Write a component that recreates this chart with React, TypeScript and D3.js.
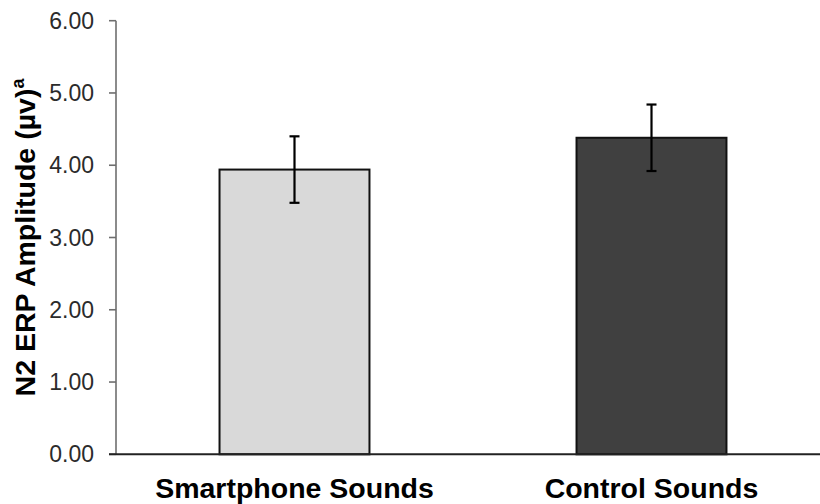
import React from "react";
import * as d3 from "d3";

const categories = ["Smartphone Sounds", "Control Sounds"];
const means = [3.94, 4.38];
const errors = [0.46, 0.46];
const fills = ["#d9d9d9", "#404040"];
const yTicks = [0, 1, 2, 3, 4, 5, 6];

const W = 820;
const H = 504;
const x0 = 116;
const x1 = 830;
const yTop = 20.7;
const yBottom = 454.3;

export default function App() {
  const x = d3
    .scaleBand<string>()
    .domain(categories)
    .range([x0, x1])
    .paddingInner(0.58)
    .paddingOuter(0.29);
  const y = d3.scaleLinear().domain([0, 6]).range([yBottom, yTop]);
  const fmt = d3.format(".2f");
  const cap = 5;

  return (
    <svg
      width={W}
      height={H}
      style={{ position: "absolute", left: 0, top: 0, background: "#fff" }}
      fontFamily="'Liberation Sans', Arial, sans-serif"
    >
      {/* y axis */}
      <line x1={x0} x2={x0} y1={yTop} y2={yBottom} stroke="#6e6e6e" strokeWidth={1.6} />
      {yTicks.map((t) => (
        <g key={t}>
          <line x1={x0 - 7} x2={x0} y1={y(t)} y2={y(t)} stroke="#6e6e6e" strokeWidth={1.6} />
          <text
            x={94}
            y={y(t)}
            textAnchor="end"
            dominantBaseline="central"
            fontSize={23}
            fill="#2b2b2b"
          >
            {fmt(t)}
          </text>
        </g>
      ))}
      {/* bars */}
      {categories.map((c, i) => (
        <rect
          key={c}
          x={x(c)}
          y={y(means[i])}
          width={x.bandwidth()}
          height={y(0) - y(means[i])}
          fill={fills[i]}
          stroke="#111"
          strokeWidth={2}
        />
      ))}
      {/* x axis baseline */}
      <line x1={x0 - 7} x2={W} y1={y(0)} y2={y(0)} stroke="#222" strokeWidth={2} />
      {/* error bars */}
      {categories.map((c, i) => {
        const cx = (x(c) as number) + x.bandwidth() / 2;
        const hi = y(means[i] + errors[i]);
        const lo = y(means[i] - errors[i]);
        return (
          <g key={c + "e"} stroke="#000" strokeWidth={2.2}>
            <line x1={cx} x2={cx} y1={hi} y2={lo} />
            <line x1={cx - cap} x2={cx + cap} y1={hi} y2={hi} />
            <line x1={cx - cap} x2={cx + cap} y1={lo} y2={lo} />
          </g>
        );
      })}
      {/* x labels */}
      {categories.map((c) => (
        <text
          key={c + "l"}
          x={(x(c) as number) + x.bandwidth() / 2}
          y={498}
          textAnchor="middle"
          fontSize={28.5}
          fontWeight="bold"
          fill="#000"
        >
          {c}
        </text>
      ))}
      {/* y title */}
      <text
        transform={`translate(35, ${(yTop + yBottom) / 2}) rotate(-90)`}
        textAnchor="middle"
        fontSize={28.5}
        fontWeight="bold"
        fill="#000"
      >
        N2 ERP Amplitude (µv)
        <tspan fontSize={18} dy={-11}>a</tspan>
      </text>
    </svg>
  );
}
